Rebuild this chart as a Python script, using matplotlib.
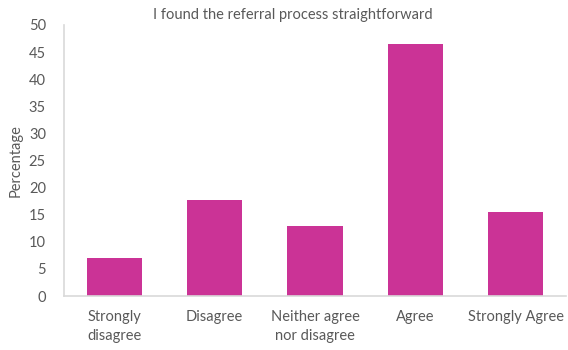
import matplotlib
matplotlib.use("Agg")
import matplotlib.pyplot as plt

categories = ["Strongly\ndisagree", "Disagree", "Neither agree\nnor disagree", "Agree", "Strongly Agree"]
percentages = [7.1, 17.7, 12.9, 46.5, 15.5]
y_ticks = [0, 5, 10, 15, 20, 25, 30, 35, 40, 45, 50]

plt.rcParams["font.family"] = ["Lato", "DejaVu Sans"]

fig = plt.figure(figsize=(5.68, 3.5), dpi=100)
ax = fig.add_axes([64 / 568, 1 - 296 / 350, 502 / 568, 271 / 350])

x = range(len(categories))
ax.bar(x, percentages, width=0.55, color="#CB3396", zorder=2)

ax.set_xlim(-0.5, len(categories) - 0.5)
ax.set_ylim(0, 50)
ax.set_yticks(y_ticks)
ax.set_xticks(list(x))
ax.set_xticklabels(categories, linespacing=1.5)

ax.tick_params(axis="y", length=0, pad=13, labelsize=10.5, labelcolor="#595959")
ax.tick_params(axis="x", length=0, pad=10, labelsize=10.5, labelcolor="#595959")

for side in ("top", "right"):
    ax.spines[side].set_visible(False)
for side in ("left", "bottom"):
    ax.spines[side].set_color("#D9D9D9")
    ax.spines[side].set_linewidth(1.2)

ax.set_ylabel("Percentage", fontsize=10.5, color="#595959")
ax.yaxis.set_label_coords(-41 / 502, 0.5)

fig.text(293 / 568, 1 - 15 / 350, "I found the referral process straightforward",
         ha="center", va="center", fontsize=10.5, color="#595959")

fig.savefig("out.png", dpi=100, facecolor="white")
